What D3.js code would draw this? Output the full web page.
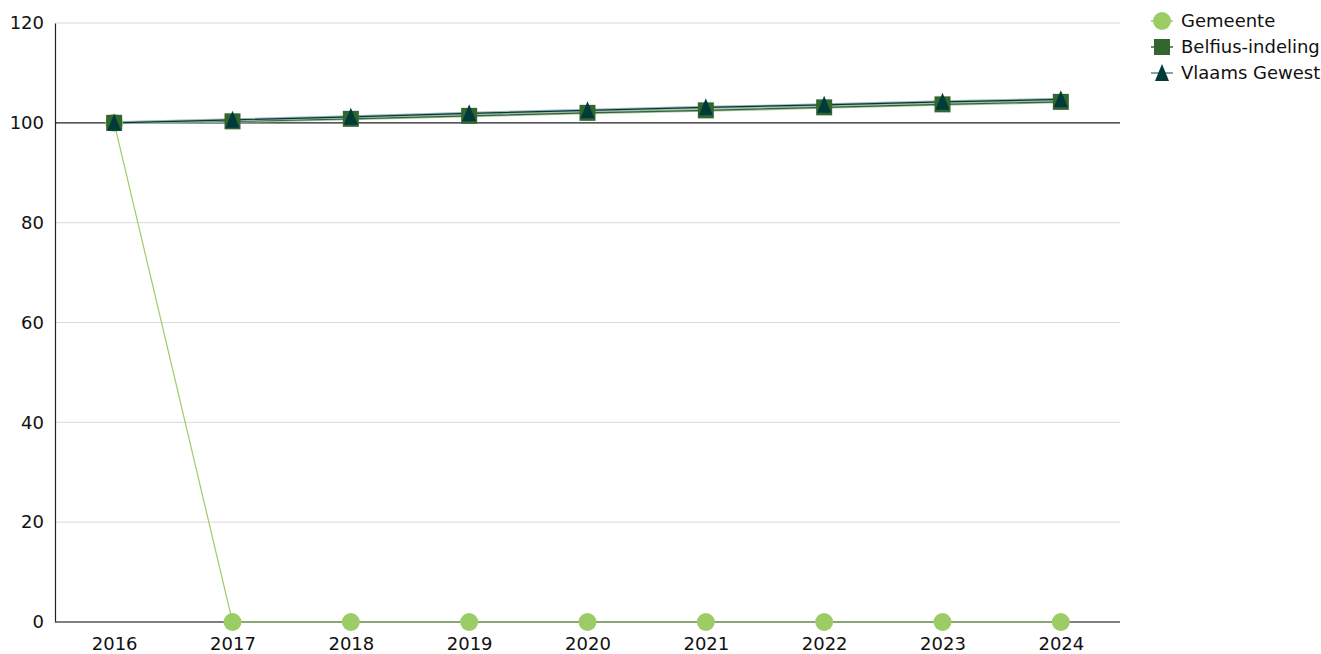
<!DOCTYPE html>
<html><head><meta charset="utf-8">
<script src="https://cdn.jsdelivr.net/npm/d3@7"></script>
<style>body{margin:0;background:#fff}svg{display:block}text{font-family:"DejaVu Sans",Verdana,sans-serif}</style>
</head><body>
<script>
const years = ["2016","2017","2018","2019","2020","2021","2022","2023","2024"];
const gemeente = [100,0,0,0,0,0,0,0,0];
const belfius = [100,100.3,100.8,101.4,102.0,102.5,103.1,103.7,104.2];
const vlaams = [100,100.6,101.2,101.9,102.5,103.1,103.6,104.2,104.7];
const yTicks = [0,20,40,60,80,100,120];
const seriesNames = ["Gemeente","Belfius-indeling","Vlaams Gewest"];

const W=1321,H=654;
const m={l:55,r:201,t:23,b:32};
const FS=18;
const svg=d3.select("body").append("svg").attr("width",W).attr("height",H);
const x=d3.scalePoint().domain(years).range([m.l,W-m.r]).padding(0.5);
const y=d3.scaleLinear().domain([0,120]).range([H-m.b,m.t]);

// gridlines
svg.append("g").selectAll("line").data(yTicks.filter(d=>d!==0&&d!==100)).join("line")
 .attr("x1",m.l).attr("x2",W-m.r).attr("y1",d=>y(d)).attr("y2",d=>y(d))
 .attr("stroke","#d9d9d9").attr("stroke-width",1);
// 100 reference line
svg.append("line").attr("x1",m.l).attr("x2",W-m.r).attr("y1",y(100)).attr("y2",y(100)).attr("stroke","#222").attr("stroke-width",1.2);
// y axis
const ya=svg.append("g").attr("transform",`translate(${m.l},0)`).call(d3.axisLeft(y).tickValues(yTicks).tickSize(0).tickPadding(11));
ya.select(".domain").attr("stroke","#222").attr("stroke-width",1.2);
ya.selectAll("text").attr("font-size",FS).attr("fill","#111").attr("font-family","DejaVu Sans");
// x axis
const xa=svg.append("g").attr("transform",`translate(0,${y(0)})`).call(d3.axisBottom(x).tickSize(0).tickPadding(15));
xa.select(".domain").attr("stroke","#555").attr("stroke-width",1.5).attr("d",`M${m.l},0H${W-m.r}`);
xa.selectAll("text").attr("font-size",FS).attr("fill","#111").attr("font-family","DejaVu Sans");

const line=d3.line().x((d,i)=>x(years[i])).y(d=>y(d));
const cols={g:"#9ccc65",b:"#33662f",v:"#003b3b"};
// lines
svg.append("path").datum(gemeente).attr("d",line).attr("fill","none").attr("stroke",cols.g).attr("stroke-width",1.2);
svg.append("path").datum(belfius).attr("d",line).attr("fill","none").attr("stroke","#a9c4a5").attr("stroke-width",3);
svg.append("path").datum(belfius).attr("d",line).attr("fill","none").attr("stroke",cols.b).attr("stroke-width",1.2);
svg.append("path").datum(vlaams).attr("d",line).attr("fill","none").attr("stroke","#9fb2b2").attr("stroke-width",3);
svg.append("path").datum(vlaams).attr("d",line).attr("fill","none").attr("stroke",cols.v).attr("stroke-width",1.2);
// markers
svg.append("g").selectAll("circle").data(gemeente).join("circle")
 .attr("cx",(d,i)=>x(years[i])).attr("cy",d=>y(d)).attr("r",9).attr("fill",cols.g);
const sq=d3.symbol().type(d3.symbolSquare).size(256);
const tallTri={draw(ctx,size){ctx.moveTo(0,-9);ctx.lineTo(7,8);ctx.lineTo(-7,8);ctx.closePath();}};
const tri=d3.symbol().type(tallTri);
svg.append("g").selectAll("path").data(belfius).join("path").attr("d",sq)
 .attr("transform",(d,i)=>`translate(${x(years[i])},${y(d)})`).attr("fill",cols.b);
svg.append("g").selectAll("path").data(vlaams).join("path").attr("d",tri)
 .attr("transform",(d,i)=>`translate(${x(years[i])},${y(d)})`).attr("fill",cols.v);

// legend
const lg=svg.append("g");
const ly=[21,47,73];
seriesNames.forEach((n,i)=>{
  const g=lg.append("g").attr("transform",`translate(1162,${ly[i]})`);
  g.append("line").attr("x1",-11).attr("x2",11).attr("stroke",i==0?cols.g:(i==1?cols.b:"#5f8585")).attr("stroke-width",1.5);
  if(i==0) g.append("circle").attr("r",9).attr("fill",cols.g);
  if(i==1) g.append("path").attr("d",sq).attr("fill",cols.b);
  if(i==2) g.append("path").attr("d",tri).attr("fill",cols.v);
  g.append("text").attr("x",19).attr("dy","0.36em").attr("font-size",FS).attr("fill","#111").text(n);
});
</script>
</body></html>
